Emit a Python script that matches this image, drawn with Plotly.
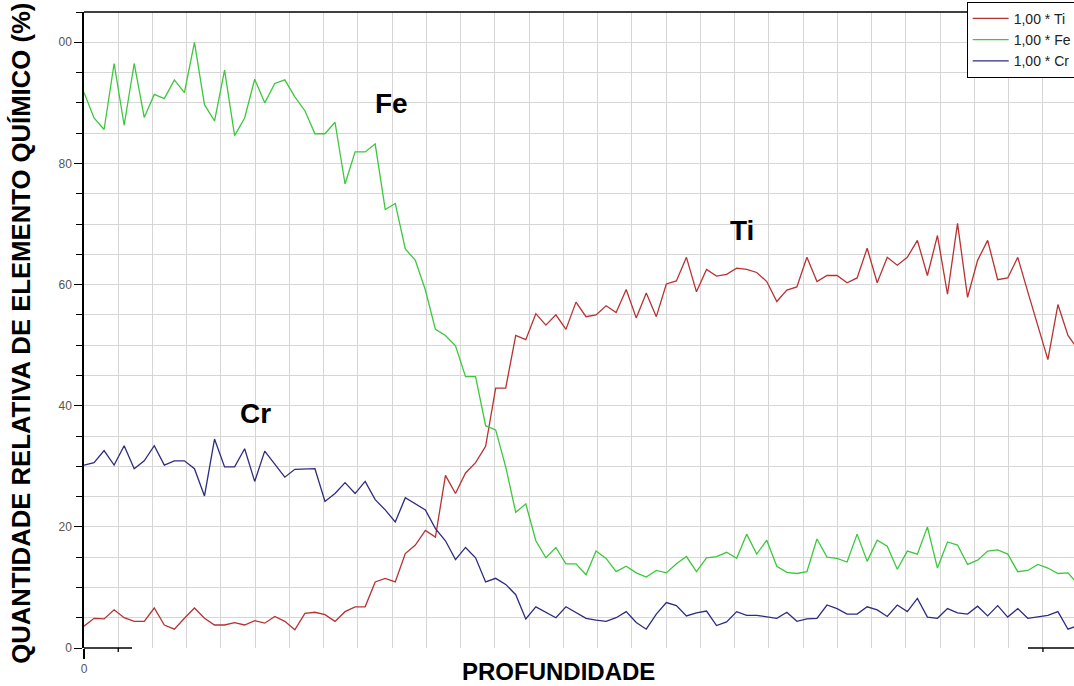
import plotly.graph_objects as go

# ---- data ----
profundidade = list(range(100))

ti = [3.6, 4.9, 4.8, 6.3, 5.0, 4.4, 4.4, 6.6, 3.8, 3.1,
      4.9, 6.6, 4.9, 3.8, 3.8, 4.2, 3.8, 4.5, 4.1, 5.2,
      4.4, 3.0, 5.7, 5.9, 5.5, 4.4, 6.0, 6.8, 6.8, 10.9,
      11.5, 10.9, 15.6, 17.0, 19.4, 18.3, 28.5, 25.5, 28.9, 30.6,
      33.3, 42.9, 42.9, 51.6, 50.9, 55.2, 53.3, 55.0, 52.6, 57.1,
      54.7, 55.0, 56.5, 55.4, 59.2, 54.5, 58.6, 54.7, 60.1, 60.6,
      64.5, 58.8, 62.5, 61.4, 61.7, 62.7, 62.5, 62.0, 60.5, 57.2,
      59.1, 59.6, 64.5, 60.5, 61.5, 61.5, 60.3, 61.1, 66.0, 60.3,
      64.5, 63.2, 64.5, 67.3, 61.5, 68.1, 58.4, 70.1, 57.9, 64.0,
      67.3, 60.8, 61.1, 64.5, 58.8, 53.3, 47.6, 56.7, 51.6, 49.3]

fe = [91.7, 87.5, 85.6, 96.5, 86.3, 96.5, 87.6, 91.4, 90.7, 93.8,
      91.7, 100.0, 89.7, 87.0, 95.4, 84.6, 87.5, 93.9, 90.0, 93.2,
      93.8, 91.0, 88.7, 84.9, 84.9, 86.8, 76.6, 81.9, 81.9, 83.2,
      72.4, 73.4, 65.9, 64.0, 59.1, 52.6, 51.6, 49.9, 44.8, 44.8,
      36.7, 36.0, 29.9, 22.4, 23.8, 17.7, 14.9, 16.6, 13.9, 13.9,
      12.1, 16.0, 14.8, 12.6, 13.5, 12.4, 11.7, 12.8, 12.4, 13.9,
      15.1, 12.6, 14.9, 15.1, 15.8, 14.8, 18.8, 15.5, 17.8, 13.5,
      12.5, 12.3, 12.6, 18.0, 15.0, 14.8, 14.2, 18.8, 14.3, 17.8,
      16.8, 13.0, 16.0, 15.5, 20.0, 13.2, 17.5, 17.0, 13.8, 14.5,
      16.0, 16.2, 15.5, 12.6, 12.8, 13.8, 13.2, 12.3, 12.4, 10.5]

cr = [30.2, 30.6, 32.6, 30.2, 33.4, 29.6, 30.9, 33.4, 30.2, 30.9,
      30.9, 29.6, 25.1, 34.5, 29.9, 29.9, 32.9, 27.5, 32.5, 30.3,
      28.2, 29.5, 29.5, 29.6, 24.2, 25.5, 27.3, 25.5, 27.5, 24.5,
      22.8, 20.8, 24.8, 23.8, 22.8, 19.7, 17.7, 14.6, 16.6, 14.9,
      10.9, 11.5, 10.5, 8.8, 4.8, 6.8, 5.9, 5.0, 6.8, 5.8,
      4.9, 4.6, 4.4, 5.0, 6.0, 4.2, 3.1, 5.6, 7.5, 7.0,
      5.3, 5.8, 6.1, 3.7, 4.3, 6.0, 5.4, 5.4, 5.1, 4.9,
      5.9, 4.4, 4.8, 4.9, 7.1, 6.5, 5.6, 5.6, 6.8, 6.3,
      5.2, 7.1, 6.0, 8.2, 5.1, 4.9, 6.5, 5.8, 5.6, 6.9,
      5.3, 7.0, 5.1, 6.5, 4.9, 5.1, 5.4, 6.0, 3.1, 3.7]

series_names = ["1,00 * Ti", "1,00 * Fe", "1,00 * Cr"]
series_colors = ["#b83232", "#3cc83c", "#2c2c80"]

y_tick_vals = [0, 20, 40, 60, 80, 100]
y_tick_text = ["0", "20", "40", "60", "80", "00"]
x_tick_vals = [0]
x_tick_text = ["0"]

labels = ["Fe", "Ti", "Cr"]
label_x = [30.6, 65.5, 17.1]
label_y = [89.9, 68.9, 38.7]

# ---- figure ----
GRID = "#d6d6d6"
X_MAX = 98.6
X_GRID_STEP = 3.411

fig = go.Figure()
for name, vals, color in zip(series_names, [ti, fe, cr], series_colors):
    fig.add_trace(go.Scatter(x=profundidade, y=vals, mode="lines", name=name,
                             line=dict(color=color, width=1.3)))

fig.update_layout(
    width=1074, height=686,
    margin=dict(l=84, r=0, t=12, b=38, autoexpand=False),
    paper_bgcolor="white", plot_bgcolor="white",
    font=dict(family="Liberation Sans, Arial, sans-serif"),
    showlegend=True,
    legend=dict(x=0.8916, y=1.016, xanchor="left", yanchor="top",
                bgcolor="white", bordercolor="black", borderwidth=1,
                itemwidth=36,
                font=dict(size=14, color="#222"), tracegroupgap=0),
    xaxis=dict(range=[0, X_MAX], tickvals=x_tick_vals, ticktext=x_tick_text,
               ticks="outside", ticklen=10, tickwidth=1.5, tickcolor="black",
               showline=False, zeroline=False, showgrid=True, gridcolor=GRID,
               tickfont=dict(size=12, color="#555"),
               minor=dict(dtick=X_GRID_STEP, tick0=0, showgrid=True,
                          gridcolor=GRID, ticks="")),
    yaxis=dict(range=[0, 105], tickvals=y_tick_vals, ticktext=y_tick_text,
               ticks="outside", ticklen=8, tickwidth=1.3, tickcolor="black",
               showline=True, linecolor="black", linewidth=1.5,
               zeroline=False, showgrid=True, gridcolor=GRID,
               tickfont=dict(size=12, color="#555"),
               minor=dict(dtick=5, tick0=0, showgrid=True, gridcolor=GRID,
                          ticks="outside", ticklen=6, tickcolor="black")),
)

# frame pieces: top border and the partial bottom axis
fig.add_shape(type="line", xref="paper", yref="paper", x0=0, x1=1, y0=1, y1=1,
              line=dict(color="black", width=1.5))
fig.add_shape(type="line", xref="paper", yref="paper", x0=0, x1=0.0485, y0=0, y1=0,
              line=dict(color="black", width=1.5))
fig.add_shape(type="line", xref="paper", yref="paper", x0=0.9535, x1=1, y0=0, y1=0,
              line=dict(color="black", width=1.5))
for gx in [X_GRID_STEP, 28 * X_GRID_STEP]:
    fig.add_shape(type="line", xref="x", yref="paper", ysizemode="pixel", yanchor=0,
                  x0=gx, x1=gx, y0=0, y1=-4, line=dict(color="black", width=1.3))

# axis titles
fig.add_annotation(text="<b>PROFUNDIDADE</b>", xref="paper", yref="paper",
                   x=0.479, y=-0.0362, xanchor="center", yanchor="middle",
                   showarrow=False, font=dict(size=24, color="black"))
fig.add_annotation(text="<b>QUANTIDADE RELATIVA DE ELEMENTO QUÍMICO (%)</b>",
                   xref="paper", yref="paper", x=-0.0636, y=0.494,
                   xanchor="center", yanchor="middle", textangle=-90,
                   showarrow=False, font=dict(size=25.7, color="black"))

# element labels
for t, lx, ly in zip(labels, label_x, label_y):
    fig.add_annotation(text=f"<b>{t}</b>", x=lx, y=ly, xref="x", yref="y",
                       showarrow=False, font=dict(size=28, color="black"))

fig.write_html("out.html", config={"displayModeBar": False},
               post_script="document.body.style.margin='0';document.body.style.overflow='hidden';")
